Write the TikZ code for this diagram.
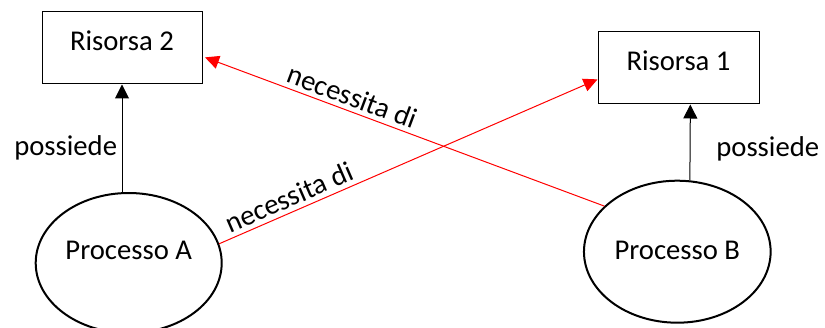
\documentclass[tikz,border=0pt]{standalone}
\usepackage{fontspec}
\setmainfont{Carlito}
\usetikzlibrary{positioning,arrows.meta,shapes.geometric}
\definecolor{needred}{HTML}{FF0000}

\begin{document}
\begin{tikzpicture}[x=0.75pt,y=-0.75pt,
  res/.style={draw, line width=0.75pt, minimum width=120pt, minimum height=54pt,
              inner sep=0pt, text height=13.5pt, text depth=9pt,
              font=\fontsize{21.5}{25}\selectfont},
  proc/.style={draw, ellipse, line width=1.5pt, minimum width=139.5pt,
               minimum height=105pt, inner sep=0pt, text height=13.5pt,
               font=\fontsize{21.5}{25}\selectfont},
  has/.style={-{Triangle[length=10.5pt,width=10.5pt]}, line width=0.75pt},
  need/.style={-{Triangle[length=10.5pt,width=10pt]}, line width=0.75pt, needred},
  lbl/.style={font=\fontsize{21.5}{25}\selectfont, text=black}
]
\useasboundingbox (0,0) rectangle (825,328);
% boxes and processes (text sits a bit left of centre, as in a word processor)
\node[res] (r2) at (122,48) {Risorsa 2\hspace{9pt}};
\node[res, minimum width=120.75pt] (r1) at (678.5,68) {Risorsa 1\hspace{10.5pt}};
\node[proc, text depth=19.5pt] (pa) at (128.7,263) {Processo A\hspace{6.3pt}};
\node[proc, text depth=2.5pt, minimum width=140pt, minimum height=106.5pt] (pb) at (677.3,251.7) {Processo B\hspace{7pt}};
% connectors
\draw[has] (r2.south |- pa.north) -- node[lbl, left, pos=0.41]{possiede} (r2.south);
\draw[has] (pb.80) -- node[lbl, right, pos=0.42, xshift=16pt]{possiede} (r1.-72);
\draw[need] (pa.12) -- node[lbl, above, sloped, pos=0.2]{necessita di} (r1.188);
\draw[need, shorten >=2pt] (pb.148) -- node[lbl, above, sloped, pos=0.64]{necessita di} (r2.-6);
\end{tikzpicture}
\end{document}
